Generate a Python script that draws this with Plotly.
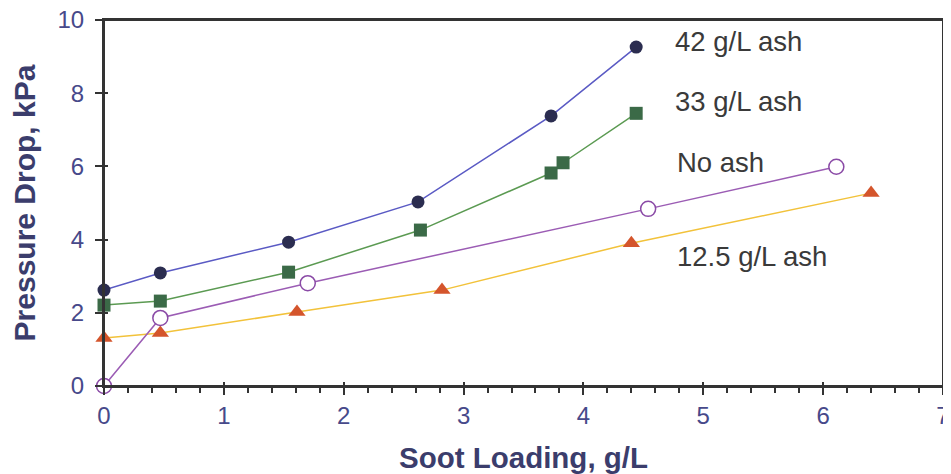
import plotly.graph_objects as go

# Data
x_42 = [0.0, 0.47, 1.54, 2.62, 3.73, 4.44]
y_42 = [2.62, 3.09, 3.93, 5.03, 7.38, 9.26]

x_33 = [0.0, 0.47, 1.54, 2.64, 3.73, 3.83, 4.44]
y_33 = [2.21, 2.32, 3.11, 4.26, 5.82, 6.10, 7.45]

x_no = [0.0, 0.47, 1.70, 4.54, 6.11]
y_no = [0.0, 1.86, 2.81, 4.84, 5.99]

x_12 = [0.0, 0.47, 1.61, 2.82, 4.40, 6.40]
y_12 = [1.31, 1.45, 2.02, 2.62, 3.90, 5.27]

labels = ["42 g/L ash", "33 g/L ash", "No ash", "12.5 g/L ash"]
label_x = [4.75, 4.75, 4.76, 4.76]
label_y = [9.4, 7.78, 6.1, 3.55]

x_ticks = [0, 1, 2, 3, 4, 5, 6, 7]
y_ticks = [0, 2, 4, 6, 8, 10]

tick_color = "#47498a"
title_color = "#3b3d6c"
axis_color = "#333333"
font_fam = "Liberation Sans, Arial"

fig = go.Figure()

fig.add_trace(go.Scatter(x=x_12, y=y_12, mode="lines+markers",
                         line=dict(color="#f2c23a", width=1.5),
                         marker=dict(symbol="triangle-up", size=15, color="#d4552c"),
                         cliponaxis=False, showlegend=False))
fig.add_trace(go.Scatter(x=x_no, y=y_no, mode="lines+markers",
                         line=dict(color="#9b5cb4", width=1.5),
                         marker=dict(symbol="circle", size=15, color="white",
                                     line=dict(color="#8a4aa6", width=1.5)),
                         cliponaxis=False, showlegend=False))
fig.add_trace(go.Scatter(x=x_33, y=y_33, mode="lines+markers",
                         line=dict(color="#5b9a52", width=1.5),
                         marker=dict(symbol="square", size=13, color="#3b6a47"),
                         cliponaxis=False, showlegend=False))
fig.add_trace(go.Scatter(x=x_42, y=y_42, mode="lines+markers",
                         line=dict(color="#5a5ac4", width=1.5),
                         marker=dict(symbol="circle", size=13, color="#2b2d50"),
                         cliponaxis=False, showlegend=False))

for t, lx, ly in zip(labels, label_x, label_y):
    fig.add_annotation(x=lx, y=ly, text=t, showarrow=False, xanchor="left",
                       yanchor="middle",
                       font=dict(family=font_fam, size=27.5, color="#3a3a3a"))

axis_common = dict(showgrid=False, zeroline=False, showline=True,
                   linecolor=axis_color, linewidth=2, mirror=True, automargin=False,
                   ticklabeloverflow="allow")

fig.update_layout(
    width=943, height=466,
    margin=dict(l=96, r=8, t=12, b=88),
    paper_bgcolor="white", plot_bgcolor="white",
    xaxis=dict(range=[0, 7], tickvals=x_ticks, ticks="outside", ticklen=7,
               tickwidth=2, tickcolor=axis_color,
               minor=dict(dtick=0.2, ticks="outside", ticklen=5, tickwidth=1.5,
                          tickcolor=axis_color),
               tickfont=dict(family=font_fam, size=24, color=tick_color),
               title=dict(text="<b>Soot Loading, g/L</b>", standoff=20,
                          font=dict(family=font_fam, size=29.5, color=title_color)),
               **axis_common),
    yaxis=dict(range=[0, 10], tickvals=y_ticks, ticks="outside", ticklen=7,
               tickwidth=2, tickcolor=axis_color, ticklabelstandoff=6,
               tickfont=dict(family=font_fam, size=24, color=tick_color),
               title=dict(text="<b>Pressure Drop, kPa</b>", standoff=28,
                          font=dict(family=font_fam, size=30, color=title_color)),
               **axis_common),
    xaxis2=dict(range=[0, 7], tickvals=x_ticks, ticks="inside", ticklen=4,
                tickwidth=2, tickcolor=axis_color, showticklabels=False,
                overlaying="x", anchor="y", side="bottom", showgrid=False,
                zeroline=False, showline=False),
    yaxis2=dict(range=[0, 10], tickvals=y_ticks, ticks="inside", ticklen=4,
                tickwidth=2, tickcolor=axis_color, showticklabels=False,
                overlaying="y", anchor="x", side="left", showgrid=False,
                zeroline=False, showline=False),
    shapes=[dict(type="rect", xref="paper", yref="paper", x0=0, x1=1, y0=0, y1=1,
                 line=dict(color=axis_color, width=2), layer="above")],
)

# invisible trace to activate the overlay axes for inside tick marks
fig.add_trace(go.Scatter(x=[0], y=[0], xaxis="x2", yaxis="y2", mode="markers",
                         marker=dict(opacity=0), hoverinfo="skip", showlegend=False))

fig.write_html("out.html")
